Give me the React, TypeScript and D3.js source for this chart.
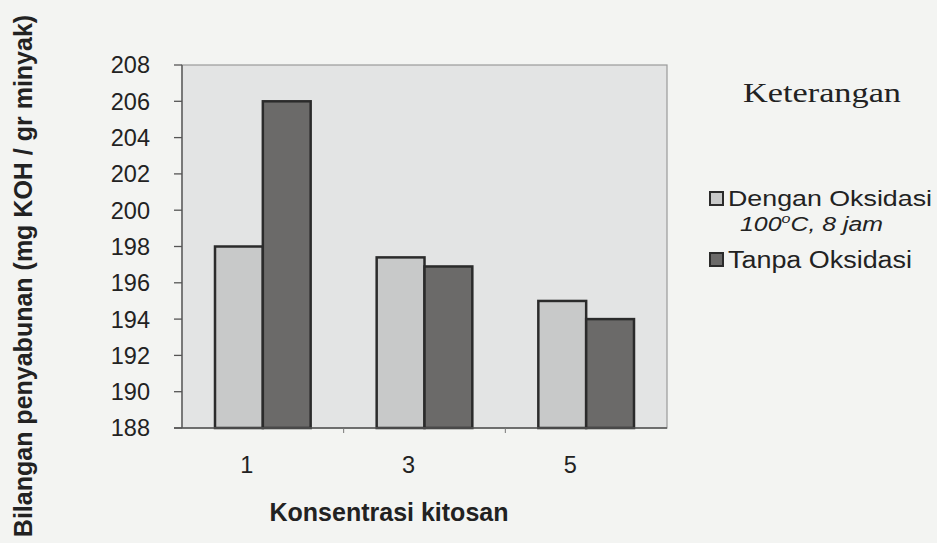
import React from "react";
import * as d3 from "d3";

const categories = ["1", "3", "5"];
const seriesNames = ["Dengan Oksidasi", "Tanpa Oksidasi"];
const denganOksidasi = [198, 197.4, 195];
const tanpaOksidasi = [206, 196.9, 194];
const yTicks = [188, 190, 192, 194, 196, 198, 200, 202, 204, 206, 208];

const W = 937;
const H = 543;
const plot = { left: 182, right: 667, top: 65, bottom: 428 };
const colors = ["#c8c9c9", "#6b6a69"];

export default function App() {
  const x0 = d3.scaleBand<string>().domain(categories).range([plot.left, plot.right]).padding(0);
  const x1 = d3
    .scaleBand<string>()
    .domain(seriesNames)
    .range([0, x0.bandwidth()])
    .paddingInner(0)
    .paddingOuter(0.69);
  const y = d3.scaleLinear().domain([188, 208]).range([plot.bottom, plot.top]);
  const values = [denganOksidasi, tanpaOksidasi];
  const sans = "'Liberation Sans', Arial, sans-serif";
  const boundaries = categories.slice(1).map((c) => x0(c) as number);

  return (
    <svg width={W} height={H} style={{ position: "absolute", left: 0, top: 0 }} fontFamily={sans}>
      <rect x={0} y={0} width={W} height={H} fill="#f3f4f2" />
      <rect
        x={plot.left}
        y={plot.top}
        width={plot.right - plot.left}
        height={plot.bottom - plot.top}
        fill="#e3e4e4"
        stroke="#9a9a9a"
        strokeWidth={1.2}
      />
      {categories.map((c, ci) =>
        seriesNames.map((s, si) => {
          const v = values[si][ci];
          const bx = (x0(c) as number) + (x1(s) as number);
          return (
            <rect
              key={c + s}
              x={bx}
              y={y(v)}
              width={x1.bandwidth()}
              height={plot.bottom - y(v)}
              fill={colors[si]}
              stroke="#2b2b2b"
              strokeWidth={2.5}
            />
          );
        })
      )}
      {/* y axis */}
      <line x1={plot.left} x2={plot.left} y1={plot.top} y2={plot.bottom} stroke="#555" strokeWidth={1.3} />
      {yTicks.map((t) => (
        <g key={t}>
          <line x1={plot.left - 8} x2={plot.left} y1={y(t)} y2={y(t)} stroke="#555" strokeWidth={1.3} />
          <text x={150} y={y(t)} dy="0.36em" textAnchor="end" fontSize={23.5} fill="#222">
            {t}
          </text>
        </g>
      ))}
      {/* x axis */}
      <line x1={plot.left - 8} x2={plot.right} y1={plot.bottom} y2={plot.bottom} stroke="#555" strokeWidth={1.3} />
      {boundaries.map((b, i) => (
        <line key={i} x1={b} x2={b} y1={plot.bottom} y2={plot.bottom + 5} stroke="#777" strokeWidth={1} />
      ))}
      {categories.map((c) => (
        <text
          key={c}
          x={(x0(c) as number) + x0.bandwidth() / 2 - 16}
          y={473}
          textAnchor="middle"
          fontSize={23.5}
          fill="#222"
        >
          {c}
        </text>
      ))}
      <text x={389} y={521} textAnchor="middle" fontSize={25} fontWeight="bold" fill="#222">
        Konsentrasi kitosan
      </text>
      <text
        transform={`translate(32, 276) rotate(-90)`}
        textAnchor="middle"
        fontSize={25}
        fontWeight="bold"
        fill="#222"
      >
        Bilangan penyabunan (mg KOH / gr minyak)
      </text>
      {/* legend */}
      <text
        x={743}
        y={102}
        fontFamily="'Liberation Serif', 'Times New Roman', serif"
        fontSize={27}
        textLength={158}
        lengthAdjust="spacingAndGlyphs"
        fill="#222"
      >
        Keterangan
      </text>
      <rect x={710} y={192} width={13} height={13} fill={colors[0]} stroke="#2b2b2b" strokeWidth={2} />
      <text x={728} y={206} fontSize={22.5} textLength={204} lengthAdjust="spacingAndGlyphs" fill="#222">
        {seriesNames[0]}
      </text>
      <text x={740} y={231} fontSize={20} fontStyle="italic" fill="#222" textLength={143} lengthAdjust="spacingAndGlyphs">
        100<tspan fontSize={13} dy={-8}>o</tspan>
        <tspan dy={8}>C, 8 jam</tspan>
      </text>
      <rect x={710} y={253} width={13} height={13} fill={colors[1]} stroke="#2b2b2b" strokeWidth={2} />
      <text x={728} y={268} fontSize={23} textLength={184} lengthAdjust="spacingAndGlyphs" fill="#222">
        {seriesNames[1]}
      </text>
    </svg>
  );
}
